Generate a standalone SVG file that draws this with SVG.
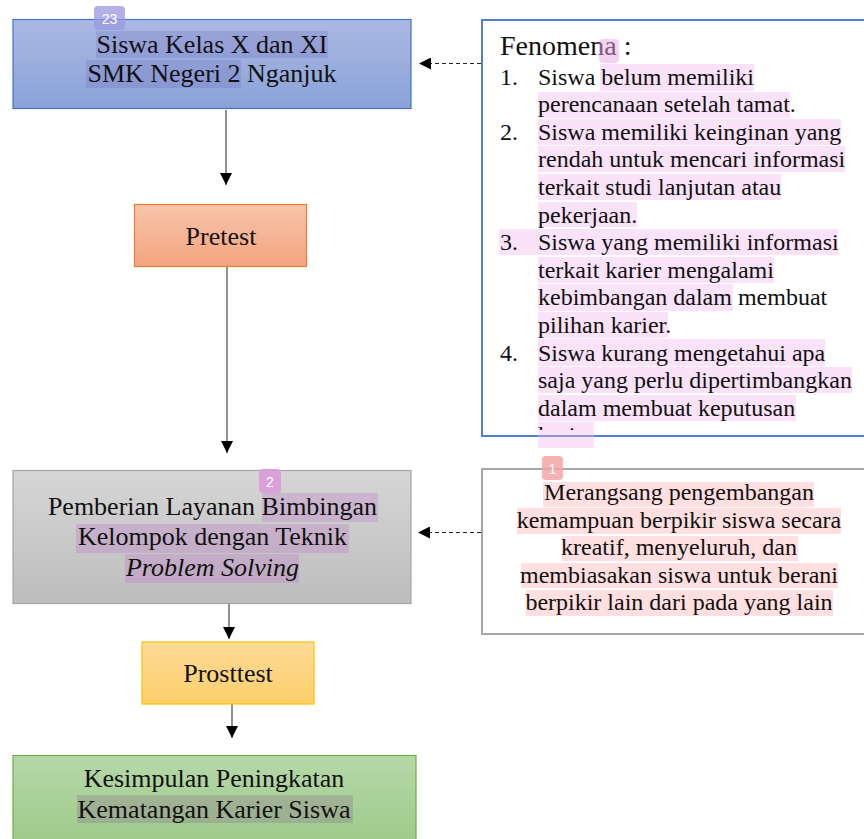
<svg xmlns="http://www.w3.org/2000/svg" width="864" height="839" viewBox="0 0 864 839">
<style>
.t{font-family:"Liberation Serif","Times New Roman",serif;fill:#111;}
.c{text-anchor:middle;font-size:26px;}
.l{font-size:24px;}
.conn{stroke:#555;stroke-width:1.3;fill:none;}
.dash{stroke:#222;stroke-width:1.2;fill:none;stroke-dasharray:4 3;}
.hp{fill:#f2b6ee;opacity:0.4;}
.hv{fill:#c070c8;opacity:0.28;}
.hb{fill:#6a5fb8;opacity:0.22;}
.hr{fill:#ffb0b0;opacity:0.4;}
.badge{font-family:"Liberation Sans",Arial,sans-serif;font-size:14px;fill:#fff;text-anchor:middle;}
</style>
<defs>
<linearGradient id="gBlue" x1="0" y1="0" x2="0" y2="1"><stop offset="0" stop-color="#aab9e3"/><stop offset="1" stop-color="#8aa2d8"/></linearGradient>
<linearGradient id="gOrange" x1="0" y1="0" x2="0" y2="1"><stop offset="0" stop-color="#f7c4aa"/><stop offset="1" stop-color="#f4a47f"/></linearGradient>
<linearGradient id="gGray" x1="0" y1="0" x2="0" y2="1"><stop offset="0" stop-color="#d6d6d6"/><stop offset="1" stop-color="#bdbdbd"/></linearGradient>
<linearGradient id="gGold" x1="0" y1="0" x2="0" y2="1"><stop offset="0" stop-color="#feda98"/><stop offset="1" stop-color="#fccf6a"/></linearGradient>
<linearGradient id="gGreen" x1="0" y1="0" x2="0" y2="1"><stop offset="0" stop-color="#b6d8a9"/><stop offset="1" stop-color="#9cc987"/></linearGradient>
<marker id="ah" viewBox="0 0 10 10" refX="10" refY="5" markerWidth="12" markerHeight="12" markerUnits="userSpaceOnUse" orient="auto"><path d="M0,0 L10,5 L0,10 z" fill="#000"/></marker>
<clipPath id="fenClip"><rect x="483" y="20" width="390" height="410"/></clipPath>
</defs>

<g id="connectors">
<line class="conn" x1="226" y1="110" x2="226" y2="185" marker-end="url(#ah)"/>
<line class="conn" x1="227" y1="267" x2="227" y2="453" marker-end="url(#ah)"/>
<line class="conn" x1="229" y1="604" x2="229" y2="639" marker-end="url(#ah)"/>
<line class="conn" x1="232" y1="704" x2="232" y2="738" marker-end="url(#ah)"/>
<line class="dash" x1="481" y1="63.5" x2="419" y2="63.5" marker-end="url(#ah)"/>
<line class="dash" x1="481" y1="532.5" x2="418" y2="532.5" marker-end="url(#ah)"/>
</g>

<g id="node-siswa">
<rect x="13" y="19.5" width="398" height="89" fill="url(#gBlue)" stroke="#4472c4" stroke-width="1.2"/>
<rect class="hb" x="96" y="31" width="232" height="27"/>
<rect class="hb" x="86" y="60" width="155" height="28"/>
<text class="t c" x="212" y="53">Siswa Kelas X dan XI</text>
<text class="t c" x="212" y="82">SMK Negeri 2 Nganjuk</text>
<rect x="94" y="6" width="31" height="24" rx="4" fill="#9a98e0" opacity="0.75"/>
<text class="badge" x="109.5" y="24">23</text>
</g>

<g id="node-pretest">
<rect x="134.5" y="204.5" width="172" height="62" fill="url(#gOrange)" stroke="#ed7d31" stroke-width="1.2"/>
<text class="t c" x="221" y="245">Pretest</text>
</g>

<g id="node-layanan">
<rect x="13" y="470.5" width="398" height="133" fill="url(#gGray)" stroke="#a5a5a5" stroke-width="1.2"/>
<rect class="hv" x="262" y="493" width="116" height="29"/>
<rect class="hv" x="76" y="524" width="273" height="29"/>
<rect class="hv" x="125" y="554" width="174" height="29"/>
<text class="t c" x="212.5" y="515">Pemberian Layanan Bimbingan</text>
<text class="t c" x="212.5" y="545">Kelompok dengan Teknik</text>
<text class="t c" x="212.5" y="576" font-style="italic">Problem Solving</text>
<rect x="259" y="469" width="22" height="24" rx="4" fill="#d99ad9" opacity="0.9"/>
<text class="badge" x="270" y="487">2</text>
</g>

<g id="node-posttest">
<rect x="142" y="642" width="172" height="62" fill="url(#gGold)" stroke="#ffc000" stroke-width="1.2"/>
<text class="t c" x="228" y="682" font-size="24">Prosttest</text>
</g>

<g id="node-kesimpulan">
<rect x="13" y="755.5" width="403" height="95" fill="url(#gGreen)" stroke="#70ad47" stroke-width="1.2"/>
<rect x="77" y="795" width="276" height="28" fill="#8a6a8a" opacity="0.3"/>
<text class="t c" x="214" y="787">Kesimpulan Peningkatan</text>
<text class="t c" x="214" y="818">Kematangan Karier Siswa</text>
</g>

<g id="node-fenomena">
<rect x="482" y="20" width="400" height="416" fill="#fff" stroke="#4f7fcb" stroke-width="2"/>
<rect class="hp" x="600" y="64" width="154" height="27"/>
<rect class="hp" x="538" y="92" width="252" height="26"/>
<rect class="hp" x="538" y="119" width="303" height="26"/>
<rect class="hp" x="538" y="146" width="307" height="26"/>
<rect class="hp" x="538" y="174" width="243" height="26"/>
<rect class="hp" x="538" y="202" width="99" height="25"/>
<rect class="hp" x="499" y="229" width="339" height="26"/>
<rect class="hp" x="538" y="257" width="236" height="26"/>
<rect class="hp" x="538" y="284" width="195" height="27"/>
<rect class="hp" x="538" y="312" width="130" height="26"/>
<rect class="hp" x="538" y="339" width="287" height="27"/>
<rect class="hp" x="538" y="367" width="314" height="26"/>
<rect class="hp" x="538" y="395" width="258" height="26"/>
<rect class="hp" x="538" y="422" width="56" height="26"/>
<g clip-path="url(#fenClip)">
<text class="t" x="500" y="55" font-size="28">Fenomena :</text>
<text class="t l" x="500" y="84.5">1.</text>
<text class="t l" x="538" y="84.5">Siswa belum memiliki</text>
<text class="t l" x="538" y="112.1">perencanaan setelah tamat.</text>
<text class="t l" x="500" y="139.7">2.</text>
<text class="t l" x="538" y="139.7">Siswa memiliki keinginan yang</text>
<text class="t l" x="538" y="167.3">rendah untuk mencari informasi</text>
<text class="t l" x="538" y="194.9">terkait studi lanjutan atau</text>
<text class="t l" x="538" y="222.5">pekerjaan.</text>
<text class="t l" x="500" y="250.1">3.</text>
<text class="t l" x="538" y="250.1">Siswa yang memiliki informasi</text>
<text class="t l" x="538" y="277.7">terkait karier mengalami</text>
<text class="t l" x="538" y="305.3">kebimbangan dalam membuat</text>
<text class="t l" x="538" y="332.9">pilihan karier.</text>
<text class="t l" x="500" y="360.5">4.</text>
<text class="t l" x="538" y="360.5">Siswa kurang mengetahui apa</text>
<text class="t l" x="538" y="388.1">saja yang perlu dipertimbangkan</text>
<text class="t l" x="538" y="415.7">dalam membuat keputusan</text>
<text class="t l" x="538" y="443.3">karier.</text>
</g>
<rect x="599" y="39" width="20" height="24" rx="4" fill="#e9a6e6" opacity="0.5"/>
</g>

<g id="node-manfaat">
<rect x="482" y="469" width="400" height="165" fill="#fff" stroke="#a6a6a6" stroke-width="2"/>
<rect class="hr" x="543" y="482" width="271" height="25"/>
<rect class="hr" x="517" y="508" width="324" height="26"/>
<rect class="hr" x="562" y="536" width="236" height="25"/>
<rect class="hr" x="521" y="563" width="317" height="25"/>
<rect class="hr" x="526" y="590" width="307" height="26"/>
<text class="t l" x="679" y="500" text-anchor="middle">Merangsang pengembangan</text>
<text class="t l" x="679" y="527.5" text-anchor="middle">kemampuan berpikir siswa secara</text>
<text class="t l" x="679" y="555" text-anchor="middle">kreatif, menyeluruh, dan</text>
<text class="t l" x="679" y="582.5" text-anchor="middle">membiasakan siswa untuk berani</text>
<text class="t l" x="679" y="610" text-anchor="middle">berpikir lain dari pada yang lain</text>
<rect x="542" y="456" width="21" height="24" rx="4" fill="#f5a3a3" opacity="0.85"/>
<text class="badge" x="552.5" y="474">1</text>
</g>
</svg>
